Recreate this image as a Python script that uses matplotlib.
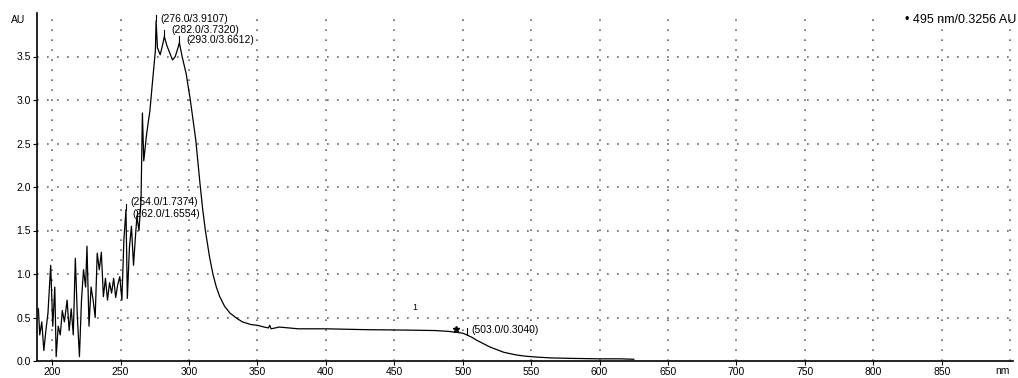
import numpy as np
import matplotlib
matplotlib.use("Agg")
import matplotlib.pyplot as plt

# 光谱数据 (波长 nm / 吸光度 AU)
wavelength = [190, 191, 192.5, 194, 195.5, 197, 199, 200.5, 202, 203, 204.5, 206, 207.5, 209,
              211, 212.5, 214, 215.5, 217, 218.5, 220, 221.5, 223, 224.5, 225.5, 227, 228.5,
              230, 231.5, 233, 234.5, 236, 237.5, 239, 240.5, 242, 243.5, 245, 246.5, 248,
              249.5, 251, 252.5, 254, 255, 256.5, 258, 259.5, 261, 262, 263.5, 265, 266, 267,
              269, 271.5, 273.5, 275.5, 276, 277, 279, 281, 282, 284, 286, 288, 290, 292, 293,
              295, 298, 301, 305, 308, 310, 312, 315, 317.5, 320, 322.5, 326, 330, 335, 339,
              345, 350, 355, 358, 359, 360, 366, 380, 400, 430, 460, 480, 490, 495, 500, 503,
              507, 510, 515, 520, 525, 530, 539, 546, 554, 565, 580, 600, 615, 625]
absorbance = [0.60, 0.30, 0.45, 0.12, 0.35, 0.55, 1.10, 0.40, 0.85, 0.05, 0.40, 0.30, 0.58, 0.45,
              0.70, 0.35, 0.60, 0.30, 1.18, 0.50, 0.05, 0.70, 1.05, 0.85, 1.32, 0.40, 0.85,
              0.70, 0.50, 1.24, 1.05, 1.25, 0.74, 0.95, 0.70, 0.90, 0.78, 0.95, 0.73, 0.88,
              0.97, 0.70, 1.40, 1.74, 0.72, 1.30, 1.55, 1.10, 1.45, 1.66, 1.50, 1.85, 2.85, 2.30,
              2.60, 2.88, 3.23, 3.57, 3.91, 3.60, 3.52, 3.65, 3.73, 3.62, 3.54, 3.46, 3.50, 3.60, 3.66,
              3.50, 3.30, 3.00, 2.54, 2.05, 1.75, 1.50, 1.20, 1.00, 0.85, 0.74, 0.63, 0.55, 0.49, 0.45,
              0.42, 0.41, 0.39, 0.38, 0.41, 0.37, 0.39, 0.37, 0.37, 0.36, 0.355, 0.35, 0.34, 0.33, 0.32, 0.30,
              0.27, 0.24, 0.20, 0.16, 0.13, 0.10, 0.07, 0.055, 0.045, 0.035, 0.03, 0.025, 0.025, 0.02]

# 峰值标注
peak_nm = [276.0, 282.0, 293.0, 254.0, 262.0, 503.0]
peak_au = [3.9107, 3.7320, 3.6612, 1.7374, 1.6554, 0.3040]
peak_text_pos = [(279, 3.93), (287, 3.81), (298, 3.69), (257, 1.83), (259, 1.69), (506, 0.36)]

cursor_nm = 495
cursor_au = 0.3256

x_ticks = list(range(200, 851, 50))
y_ticks = [0.0, 0.5, 1.0, 1.5, 2.0, 2.5, 3.0, 3.5]

plt.rcParams['font.family'] = ['Liberation Sans', 'DejaVu Sans']

fig = plt.figure(figsize=(10.18, 3.78), dpi=100)
ax = fig.add_axes([37 / 1018, 17 / 378, 976 / 1018, 348 / 378])

# 网格 (点线)
for xv in x_ticks + [900]:
    ax.axvline(xv, color='#666666', linestyle=(0, (1, 5)), linewidth=1.2, zorder=0)
for yv in y_ticks[1:]:
    ax.axhline(yv, color='#666666', linestyle=(0, (1, 5)), linewidth=1.2, zorder=0)

# 光谱曲线
ax.plot(wavelength, absorbance, color='black', linewidth=0.9)

# 峰值标签
for nm, au, (tx, ty) in zip(peak_nm, peak_au, peak_text_pos):
    ax.plot([nm, nm], [au, au + 0.07], color='black', linewidth=0.8)
    ax.text(tx, ty, "(%.1f/%.4f)" % (nm, au), fontsize=7.5, ha='left', va='center')

# 光标位置
ax.plot([cursor_nm], [cursor_au + 0.04], marker='*', color='black', markersize=5)
ax.text(465, 0.62, "1", fontsize=6.5, ha='center', va='center')
fig.text(1016 / 1018, 1 - 20 / 378, "\u2022 495 nm/0.3256 AU", fontsize=9, ha='right', va='center')

ax.set_xlim(189, 902)
ax.set_ylim(0, 4.0)
ax.set_xticks(x_ticks)
ax.set_yticks(y_ticks)
ax.set_xticklabels([str(v) for v in x_ticks], fontsize=7.5)
ax.set_yticklabels(["%.1f" % v for v in y_ticks], fontsize=7.5)
ax.tick_params(axis='both', length=3, width=0.8, pad=1.5)

# 单位
ax.text(-0.012, 3.92, "AU", transform=ax.get_yaxis_transform(), fontsize=7.5,
        ha='right', va='center')
ax.text(894, -0.06, "nm", fontsize=7.5, ha='center', va='top', clip_on=False)

for side in ['top', 'right']:
    ax.spines[side].set_visible(False)
ax.spines['left'].set_linewidth(1.2)
ax.spines['bottom'].set_linewidth(1.2)

fig.savefig("out.png", dpi=100)
